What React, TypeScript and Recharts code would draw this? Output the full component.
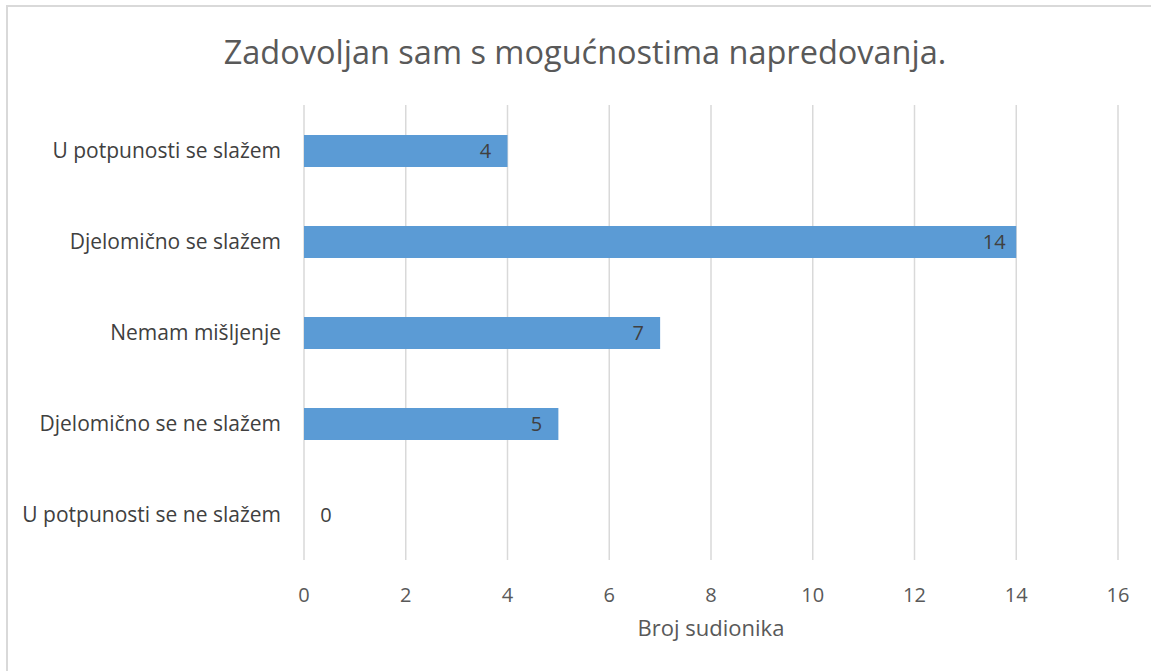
import { BarChart, Bar, XAxis, YAxis, CartesianGrid, LabelList, Cell } from 'recharts';

const categories = [
    'U potpunosti se slažem',
    'Djelomično se slažem',
    'Nemam mišljenje',
    'Djelomično se ne slažem',
    'U potpunosti se ne slažem',
];
const counts = [4, 14, 7, 5, 0];
const xTicks = [0, 2, 4, 6, 8, 10, 12, 14, 16];

const data = categories.map((name, i) => ({ name, value: counts[i] }));

const FONT = 'Open Sans, Lato, sans-serif';

const ValueLabel = (props: any) => {
    const { x, y, width, height, value } = props;
    const cx = value === 0 ? x + 22 : x + width - 22;
    return (
        <text x={cx} y={y + height / 2} dy={7} textAnchor="middle" fill="#404040" fontSize={20} fontFamily={FONT}>
            {value}
        </text>
    );
};

export default function App() {
    return (
        <div style={{ position: 'absolute', left: 0, top: 0, width: 1151, height: 671, background: '#fff', fontFamily: FONT }}>
            <div
                style={{
                    position: 'absolute',
                    left: 6,
                    top: 5,
                    right: 0,
                    bottom: 0,
                    borderTop: '2px solid #d9d9d9',
                    borderLeft: '2px solid #d9d9d9',
                }}
            />
            <div
                style={{
                    position: 'absolute',
                    left: 0,
                    top: 30,
                    width: 1170,
                    textAlign: 'center',
                    fontSize: 32.5,
                    color: '#595959',
                    lineHeight: '44px',
                }}
            >
                Zadovoljan sam s mogućnostima napredovanja.
            </div>
            <BarChart
                width={1151}
                height={671}
                data={data}
                layout="vertical"
                margin={{ top: 105, right: 33, left: 0, bottom: 0 }}
                style={{ position: 'absolute', left: 0, top: 0 }}
            >
                <CartesianGrid horizontal={false} stroke="#d9d9d9" strokeWidth={1.5} />
                <XAxis
                    type="number"
                    domain={[0, 16]}
                    ticks={xTicks}
                    axisLine={false}
                    tickLine={false}
                    height={111}
                    tick={{ fill: '#595959', fontSize: 20, fontFamily: FONT, dy: 20 }}
                    label={{ value: 'Broj sudionika', position: 'insideTop', offset: 60, fill: '#595959', fontSize: 22, fontFamily: FONT }}
                />
                <YAxis
                    type="category"
                    dataKey="name"
                    width={304}
                    axisLine={false}
                    tickLine={false}
                    tick={{ fill: '#404040', fontSize: 21, fontFamily: FONT, dx: -15 }}
                />
                <Bar dataKey="value" fill="#5b9bd5" barSize={32} minPointSize={0.5} isAnimationActive={false}>
                    {data.map((d, i) => (
                        <Cell key={`cell-${i}`} fill={d.value === 0 ? 'transparent' : '#5b9bd5'} />
                    ))}
                    <LabelList dataKey="value" content={<ValueLabel />} />
                </Bar>
            </BarChart>
        </div>
    );
}
